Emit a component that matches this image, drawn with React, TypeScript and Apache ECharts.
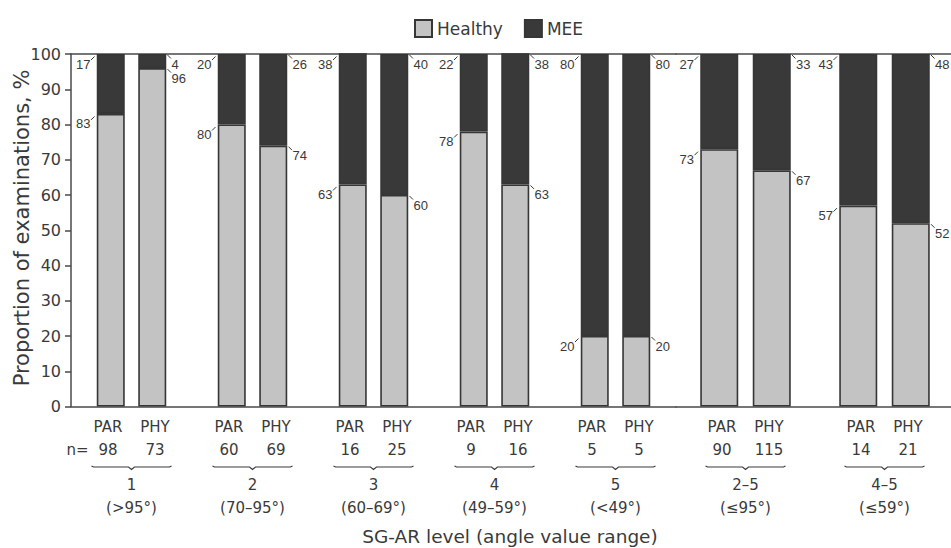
import React, { useEffect, useRef } from 'react';
import * as echarts from 'echarts';

// ---------- data ----------
const groups = ['1', '2', '3', '4', '5', '2–5', '4–5'];
const ranges = ['(>95°)', '(70–95°)', '(60–69°)', '(49–59°)', '(<49°)', '(≤95°)', '(≤59°)'];
const parHealthy = [83, 80, 63, 78, 20, 73, 57];
const parMEE = [17, 20, 38, 22, 80, 27, 43];
const phyHealthy = [96, 74, 60, 63, 20, 67, 52];
const phyMEE = [4, 26, 40, 38, 80, 33, 48];
const parN = [98, 60, 16, 9, 5, 90, 14];
const phyN = [73, 69, 25, 16, 5, 115, 21];
const armLabels = ['PAR', 'PHY'];
const seriesNames = ['Healthy', 'MEE'];
const yMin = 0;
const yMax = 100;
const yInterval = 10;
const yTitle = 'Proportion of examinations, %';
const xTitle = 'SG-AR level (angle value range)';

// ---------- style ----------
const FONT = '"DejaVu Sans", "Liberation Sans", sans-serif';
const LFONT = '"Liberation Sans", Arial, sans-serif';
const TXT = '#3a3a3a';
const AXIS = '#4a4a4a';
const HEALTHY = '#c3c3c3';
const MEE = '#393939';
const TOP = 54;
const HEIGHT = 352.5;

const panels = [
  { start: 0, end: 5, left: 71, width: 605, barW: 28, gapPx: 13.5 },
  { start: 5, end: 7, left: 676, width: 278, barW: 38, gapPx: 14.5 },
];

function makeRender(p: any) {
  return (params: any, api: any) => {
    const i = api.value(0);
    const k = p.start + i;
    const base = api.coord([i, 0]);
    const gc = base[0];
    const half = (p.barW + p.gapPx) / 2;
    const xL = gc - half - p.barW / 2 - 0.75;
    const xR = gc + half + p.barW / 2 + 0.75;
    const children: any[] = [];
    const txt = (text: string, x: number, y: number, align: string, size: number, font = FONT) => ({
      type: 'text',
      x,
      y,
      silent: true,
      style: { text, align, verticalAlign: 'middle', fontSize: size, fontFamily: font, fill: TXT },
    });
    const ln = (x1: number, y1: number, x2: number, y2: number) => ({
      type: 'line',
      silent: true,
      shape: { x1, y1, x2, y2 },
      style: { stroke: TXT, lineWidth: 1, fill: 'none' },
    });
    // PAR labels (left side)
    const parVals = [
      [api.value(1), api.value(5)],
      [Math.min(api.value(2), yMax), api.value(6)],
    ];
    parVals.forEach(([pos, lab]) => {
      const yb = api.coord([i, pos])[1];
      children.push(ln(xL - 5, yb + 6, xL - 1.5, yb + 2.5));
      children.push(txt(String(lab), xL - 5.5, yb + 10, 'right', 13, LFONT));
    });
    const phyVals = [
      [api.value(3), api.value(7)],
      [Math.min(api.value(4), yMax), api.value(8)],
    ];
    phyVals.forEach(([pos, lab]) => {
      const yb = api.coord([i, pos])[1];
      children.push(ln(xR + 0.5, yb + 1, xR + 4, yb + 4.5));
      children.push(txt(String(lab), xR + 4.5, yb + 10, 'left', 13, LFONT));
    });
    // under-axis labels
    const y0 = base[1];
    children.push(txt(armLabels[0], gc - 23.5, y0 + 20.5, 'center', 15));
    children.push(txt(armLabels[1], gc + 23.5, y0 + 20.5, 'center', 15));
    children.push(txt(String(api.value(9)), gc - 23.5, y0 + 43.5, 'center', 15));
    children.push(txt(String(api.value(10)), gc + 23.5, y0 + 43.5, 'center', 15));
    if (k === 0) children.push(txt('n=', gc - 43, y0 + 43.5, 'right', 15));
    children.push({
      type: 'polyline',
      silent: true,
      shape: {
        points: [
          [gc - 40, y0 + 59.5],
          [gc - 38, y0 + 60.5],
          [gc - 3, y0 + 60.5],
          [gc, y0 + 63],
          [gc + 3, y0 + 60.5],
          [gc + 38, y0 + 60.5],
          [gc + 40, y0 + 59.5],
        ],
      },
      style: { stroke: TXT, lineWidth: 1.2, fill: 'none' },
    });
    children.push(txt(groups[k], gc, y0 + 78.5, 'center', 15));
    children.push(txt(ranges[k], gc, y0 + 101.5, 'center', 15));
    return { type: 'group', children };
  };
}

export default function App() {
  const ref = useRef<HTMLDivElement>(null);
  useEffect(() => {
    if (!ref.current) return;
    const chart = echarts.init(ref.current, undefined, { renderer: 'svg' });
    const grid: any[] = [];
    const xAxis: any[] = [];
    const yAxis: any[] = [];
    const series: any[] = [];
    panels.forEach((p, pi) => {
      const cats = groups.slice(p.start, p.end);
      grid.push({ left: p.left, top: TOP, width: p.width, height: HEIGHT, outerBoundsMode: 'none', containLabel: false });
      const axLine = { show: true, lineStyle: { color: AXIS, width: 1.5 } };
      xAxis.push({
        type: 'category', gridIndex: pi, data: cats, position: 'bottom',
        axisLine: axLine, axisTick: { show: false }, axisLabel: { show: false }, splitLine: { show: false },
      });
      xAxis.push({
        type: 'category', gridIndex: pi, data: cats, position: 'top',
        axisLine: axLine, axisTick: { show: false }, axisLabel: { show: false }, splitLine: { show: false },
      });
      yAxis.push({
        type: 'value', gridIndex: pi, min: yMin, max: yMax, interval: yInterval, show: pi === 0,
        axisLine: axLine,
        axisTick: { show: true, length: 6, lineStyle: { color: AXIS, width: 1.5 } },
        axisLabel: { show: true, margin: 10, fontSize: 16, fontFamily: FONT, color: TXT },
        splitLine: { show: false },
      });
      const xi = pi * 2;
      const gap = (p.gapPx / p.barW) * 100 + '%';
      const mk = (name: string, data: number[], stack: string, color: string) => ({
        type: 'bar', name, data, stack, xAxisIndex: xi, yAxisIndex: pi,
        barWidth: p.barW, barGap: gap, clip: true,
        itemStyle: { color, borderColor: '#363636', borderWidth: 1.6 },
        emphasis: { disabled: true },
      });
      series.push(mk(seriesNames[0], parHealthy.slice(p.start, p.end), 'PAR' + pi, HEALTHY));
      series.push(mk(seriesNames[1], parMEE.slice(p.start, p.end), 'PAR' + pi, MEE));
      series.push(mk(seriesNames[0], phyHealthy.slice(p.start, p.end), 'PHY' + pi, HEALTHY));
      series.push(mk(seriesNames[1], phyMEE.slice(p.start, p.end), 'PHY' + pi, MEE));
      const cdata = cats.map((_, i) => {
        const k = p.start + i;
        return [i, parHealthy[k], parHealthy[k] + parMEE[k], phyHealthy[k], phyHealthy[k] + phyMEE[k],
          parHealthy[k], parMEE[k], phyHealthy[k], phyMEE[k], parN[k], phyN[k]];
      });
      series.push({
        type: 'custom', xAxisIndex: xi, yAxisIndex: pi, data: cdata, silent: true, clip: false,
        renderItem: makeRender(p), z: 5,
      });
    });
    chart.setOption({
      animation: false,
      backgroundColor: '#ffffff',
      legend: {
        data: seriesNames, left: 409, top: 14, itemWidth: 17, itemHeight: 17, itemGap: 21,
        icon: 'rect', selectedMode: false,
        textStyle: { fontSize: 17, fontFamily: FONT, color: TXT },
      },
      grid, xAxis, yAxis, series,
      graphic: [
        {
          type: 'text', x: 22, y: 228, rotation: Math.PI / 2, silent: true,
          style: { text: yTitle, align: 'center', verticalAlign: 'middle', fontSize: 21, fontFamily: FONT, fill: TXT },
        },
        {
          type: 'text', x: 510, y: 536.5, silent: true,
          style: { text: xTitle, align: 'center', verticalAlign: 'middle', fontSize: 18.5, fontFamily: FONT, fill: TXT },
        },
      ],
    });
    return () => chart.dispose();
  }, []);
  return <div ref={ref} style={{ position: 'fixed', left: 0, top: 0, width: 951, height: 548 }} />;
}
